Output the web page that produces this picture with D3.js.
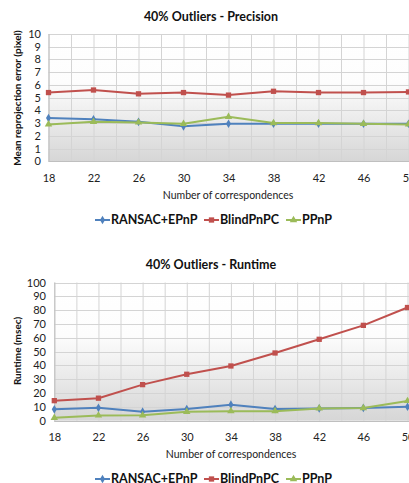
<!DOCTYPE html>
<html><head><meta charset="utf-8">
<script src="https://cdn.jsdelivr.net/npm/d3@7"></script>
<style>
html,body{margin:0;padding:0;background:#fff;overflow:hidden;}
svg{display:block;font-family:Lato,"Open Sans",sans-serif;}
</style></head>
<body>
<svg id="c" width="409" height="483"></svg>
<script>
const xValues = [18, 22, 26, 30, 34, 38, 42, 46, 50];
const seriesNames = ["RANSAC+EPnP", "BlindPnPC", "PPnP"];
const seriesColors = ["#4F81BD", "#C0504D", "#9BBB59"];
const seriesMarkers = ["diamond", "square", "triangle"];

const precisionRansac = [3.4, 3.3, 3.1, 2.75, 2.95, 2.95, 2.95, 2.95, 2.95];
const precisionBlind  = [5.4, 5.6, 5.3, 5.4, 5.2, 5.5, 5.4, 5.4, 5.45];
const precisionPPnP   = [2.9, 3.1, 3.05, 2.95, 3.5, 3.0, 3.0, 2.95, 2.9];

const runtimeRansac = [8.2, 9.3, 6.5, 8.4, 11.6, 8.4, 8.9, 9.2, 10.1];
const runtimeBlind  = [14.5, 16.3, 26.1, 33.6, 39.6, 49.0, 58.9, 69.0, 81.9];
const runtimePPnP   = [2.1, 3.8, 3.9, 6.4, 6.9, 6.9, 8.9, 9.2, 14.3];

const precisionTicks = [0,1,2,3,4,5,6,7,8,9,10];
const runtimeTicks = [0,10,20,30,40,50,60,70,80,90,100];

const svg = d3.select("#c");
const defs = svg.append("defs");
const grad = defs.append("linearGradient").attr("id","bg").attr("x1",0).attr("y1",0).attr("x2",0).attr("y2",1);
grad.append("stop").attr("offset","0%").attr("stop-color","#ffffff");
grad.append("stop").attr("offset","38%").attr("stop-color","#fdfdfd");
grad.append("stop").attr("offset","100%").attr("stop-color","#d6d6d6");

function markerPath(type){
  if(type==="square") return d3.symbol(d3.symbolSquare, 28)();
  if(type==="diamond") return d3.symbol(d3.symbolDiamond, 22)();
  return d3.symbol(d3.symbolTriangle, 24)();
}

function drawChart(cfg){
  const g = svg.append("g");
  const x = d3.scaleLinear().domain([18,50]).range([cfg.left, cfg.right]);
  const y = d3.scaleLinear().domain([0, cfg.yMax]).range([cfg.bottom, cfg.top]);

  g.append("rect").attr("x",cfg.left).attr("y",cfg.top)
    .attr("width",cfg.right - cfg.left + 5).attr("height",cfg.bottom-cfg.top)
    .attr("fill","url(#bg)");

  const vgrid = d3.range(18, 51, 2);
  g.selectAll(".vg").data(vgrid).enter().append("line")
    .attr("x1",d=>x(d)+0.5).attr("x2",d=>x(d)+0.5)
    .attr("y1",cfg.top).attr("y2",cfg.bottom)
    .attr("stroke","#d4d4d4").attr("stroke-width",1);
  g.selectAll(".hg").data(cfg.ticks).enter().append("line")
    .attr("x1",cfg.left).attr("x2",409)
    .attr("y1",d=>Math.round(y(d))+0.5).attr("y2",d=>Math.round(y(d))+0.5)
    .attr("stroke","#d4d4d4").attr("stroke-width",1);
  g.append("line").attr("x1",cfg.left+0.5).attr("x2",cfg.left+0.5)
    .attr("y1",cfg.top).attr("y2",cfg.bottom).attr("stroke","#bfbfbf");
  g.append("line").attr("x1",cfg.left).attr("x2",409)
    .attr("y1",Math.round(cfg.bottom)+0.5).attr("y2",Math.round(cfg.bottom)+0.5).attr("stroke","#bfbfbf");

  const yAxis = d3.axisLeft(y).tickValues(cfg.ticks).tickSize(0).tickPadding(0).tickFormat(d3.format("d"));
  const ya = g.append("g").attr("transform",`translate(${cfg.yLabelX},0)`).call(yAxis);
  ya.select(".domain").remove();
  ya.selectAll("text").attr("font-size","11px").attr("fill","#222").attr("font-family","Lato,sans-serif");

  const xAxis = d3.axisBottom(x).tickValues(xValues).tickSize(0).tickPadding(0);
  const xa = g.append("g").attr("transform",`translate(0,${cfg.xLabelY})`).call(xAxis);
  xa.select(".domain").remove();
  xa.selectAll("text").attr("font-size","11px").attr("fill","#222").attr("font-family","Lato,sans-serif");

  g.append("text").attr("x",cfg.titleX).attr("y",cfg.titleY).attr("text-anchor","middle")
    .attr("font-size","12.5px").attr("font-weight","bold").attr("fill","#111").text(cfg.title);
  g.append("text").attr("transform",`translate(${cfg.yTitleX},${cfg.yTitleY}) rotate(-90)`)
    .attr("text-anchor","middle").attr("font-size","10px").attr("font-weight","bold").attr("fill","#111")
    .text(cfg.yTitle);
  g.append("text").attr("x",cfg.xTitleX).attr("y",cfg.xTitleY).attr("text-anchor","middle")
    .attr("font-size","10.5px").attr("fill","#222").text("Number of correspondences");

  const line = d3.line().x((d,i)=>x(xValues[i])).y(d=>y(d));
  cfg.series.forEach((vals, si)=>{
    g.append("path").datum(vals).attr("d",line).attr("fill","none")
      .attr("stroke",seriesColors[si]).attr("stroke-width",2).attr("stroke-linejoin","round");
    g.selectAll(".m"+si).data(vals).enter().append("path")
      .attr("transform",(d,i)=>`translate(${x(xValues[i])},${y(d)})`)
      .attr("d",()=>markerPath(seriesMarkers[si]))
      .attr("fill",seriesColors[si]);
  });

  const legX = [95, 204, 286];
  const lg = g.append("g");
  seriesNames.forEach((n,i)=>{
    lg.append("line").attr("x1",legX[i]).attr("x2",legX[i]+15)
      .attr("y1",cfg.legendY).attr("y2",cfg.legendY).attr("stroke",seriesColors[i]).attr("stroke-width",2);
    lg.append("path").attr("transform",`translate(${legX[i]+7.5},${cfg.legendY})`)
      .attr("d",markerPath(seriesMarkers[i])).attr("fill",seriesColors[i]);
    lg.append("text").attr("x",legX[i]+16).attr("y",cfg.legendY).attr("dy","0.35em")
      .attr("font-size","12.5px").attr("font-weight","bold").attr("fill","#111").text(n);
  });
}

drawChart({
  left:48.5, right:408.5, top:34, bottom:161.3, yMax:10, ticks:precisionTicks,
  yLabelX:41, xLabelY:174, title:"40% Outliers - Precision", titleX:211, titleY:21,
  yTitle:"Mean reprojection error (pixel)", yTitleX:21, yTitleY:98,
  xTitleX:228, xTitleY:199, legendY:220,
  series:[precisionRansac, precisionBlind, precisionPPnP]
});
drawChart({
  left:54.3, right:407.5, top:282.5, bottom:420.7, yMax:100, ticks:runtimeTicks,
  yLabelX:46, xLabelY:433, title:"40% Outliers - Runtime", titleX:211, titleY:269,
  yTitle:"Runtime (msec)", yTitleX:21, yTitleY:351,
  xTitleX:231, xTitleY:458, legendY:479,
  series:[runtimeRansac, runtimeBlind, runtimePPnP]
});
</script>
</body></html>
